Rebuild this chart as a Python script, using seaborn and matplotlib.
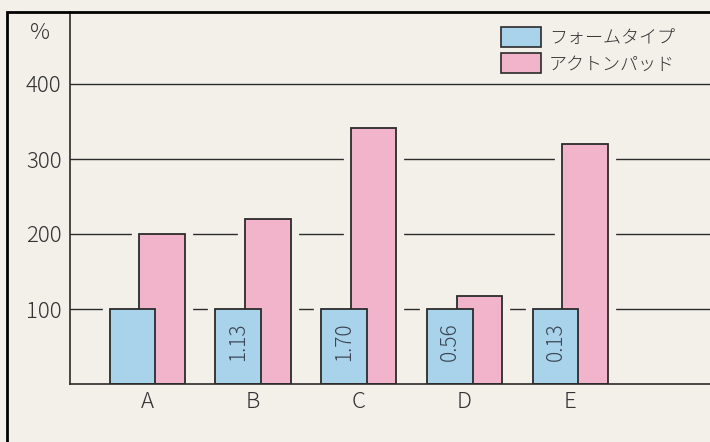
import numpy as np
import pandas as pd
import seaborn as sns
import matplotlib.pyplot as plt
from matplotlib.patches import Rectangle, Patch

# data
categories = ["A", "B", "C", "D", "E"]
foam = [100, 100, 100, 100, 100]
acton = [200, 220, 341, 117, 320]
ratio_labels = ["", "1.13", "1.70", "0.56", "0.13"]
series_names = ["フォームタイプ", "アクトンパッド"]
yticks = [100, 200, 300, 400]

bg = "#f3f0ea"
blue = "#a9d3ea"
pink = "#f2b4cb"
ink = "#2b2b2b"

sns.set_theme(style="white")
plt.rcParams["font.family"] = ["Noto Sans CJK JP", "DejaVu Sans"]
plt.rcParams["font.weight"] = "light"

idx = np.arange(len(categories))
df = pd.DataFrame({
    "cat": categories,
    "foam": foam,
    "acton": acton,
    "x_foam": idx - 0.14,
    "x_acton": idx + 0.14,
})

fig = plt.figure(figsize=(7.1, 4.42), dpi=100, facecolor=bg)
ax = fig.add_axes([70 / 710, 58 / 442, 1 - 70 / 710, 372 / 442])
ax.set_facecolor(bg)

for v in yticks:
    ax.axhline(v, color=ink, lw=1, zorder=1)

# background-coloured halo so the gridlines stop short of the bars
for xcol, ycol in [("x_acton", "acton"), ("x_foam", "foam")]:
    sns.barplot(data=df, x=xcol, y=ycol, native_scale=True, width=0.43,
                color=bg, saturation=1, edgecolor=bg, linewidth=11,
                zorder=1.2, ax=ax)

sns.barplot(data=df, x="x_acton", y="acton", native_scale=True, width=0.43,
            color=pink, saturation=1, edgecolor=ink, linewidth=1.3,
            zorder=1.5, ax=ax)
sns.barplot(data=df, x="x_foam", y="foam", native_scale=True, width=0.43,
            color=blue, saturation=1, edgecolor=ink, linewidth=1.3,
            zorder=1.6, ax=ax)

for i, lab in enumerate(ratio_labels):
    if lab:
        ax.text(i - 0.14, 56, lab, rotation=90, ha="center", va="center",
                fontsize=15, color="#3a4656", zorder=3)

ax.set_xlim(-0.73, 5.32)
ax.set_ylim(0, 496)
ax.set_xticks(idx)
ax.set_xticklabels(categories)
ax.set_yticks(yticks)
ax.set_xlabel("")
ax.set_ylabel("")
ax.tick_params(axis="both", length=0, labelsize=16, colors="#333333")
ax.tick_params(axis="x", pad=5)
ax.tick_params(axis="y", pad=6)

for s in ["top", "right"]:
    ax.spines[s].set_visible(False)
for s in ["left", "bottom"]:
    ax.spines[s].set_color(ink)
    ax.spines[s].set_linewidth(1.2)
    ax.spines[s].set_zorder(2.5)

fig.text(40 / 710, 1 - 33 / 442, "%", ha="center", va="center",
         fontsize=16, color="#333333")

handles = [Patch(facecolor=blue, edgecolor=ink, lw=1.2),
           Patch(facecolor=pink, edgecolor=ink, lw=1.2)]
fig.legend(handles, series_names, loc="upper left",
           bbox_to_anchor=(485 / 710, 1 - 11 / 442), frameon=False,
           fontsize=13, handlelength=2.2, handleheight=1.3,
           handletextpad=0.45, labelspacing=0.35, labelcolor="#333333")

# outer frame of the printed figure
fig.add_artist(Rectangle((7 / 710, -0.1), 1.2, 430 / 442 + 0.1,
                         transform=fig.transFigure, fill=False,
                         edgecolor="black", lw=2))

fig.savefig("out.png", dpi=100, facecolor=bg)
